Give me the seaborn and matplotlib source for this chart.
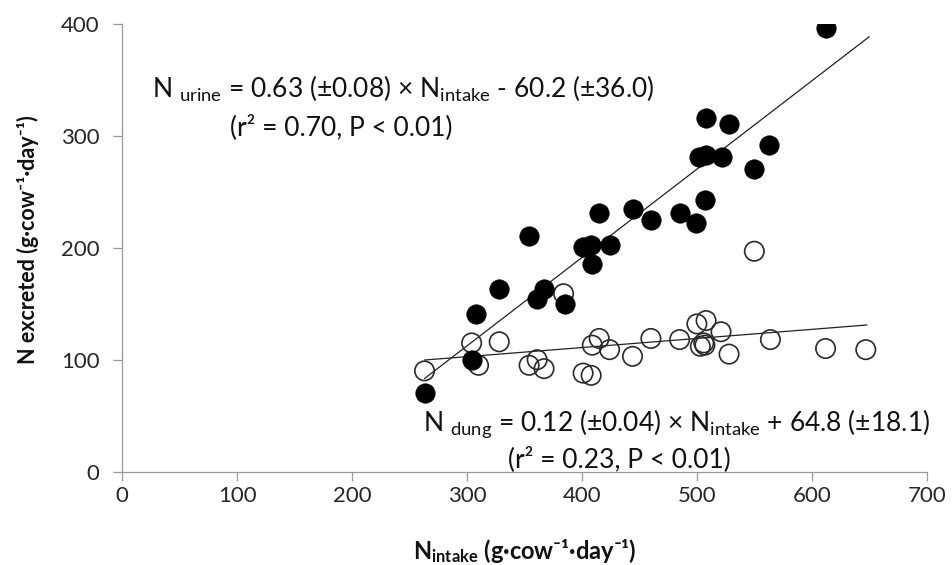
import pandas as pd
import numpy as np
import matplotlib
matplotlib.use("Agg")
import matplotlib.pyplot as plt
import seaborn as sns

# N urine (filled circles)
urine_intake = [612, 508, 528, 563, 502, 508, 522, 550, 507, 415, 444, 460, 485,
                499, 354, 401, 408, 424, 409, 328, 367, 361, 385, 308, 304, 263]
urine_n = [397, 316, 311, 292, 281, 283, 281, 271, 243, 231, 235, 225, 231,
           222, 211, 201, 203, 203, 186, 163, 163, 154, 150, 141, 100, 70]

# N dung (open circles)
dung_intake = [550, 384, 304, 328, 310, 354, 361, 367, 401, 408, 409, 415, 424,
               444, 460, 485, 500, 508, 521, 506, 503, 507, 528, 564, 612, 647, 263]
dung_n = [197, 159, 115, 116, 95, 95, 100, 92, 88, 86, 113, 119, 109,
          103, 119, 118, 132, 135, 125, 115, 112, 113, 105, 118, 110, 109, 90]

# trendlines as drawn: slope, intercept, x range
urine_fit = (0.79, -124.6)
urine_range = [263, 650]
dung_fit = (0.0814, 78.3)
dung_range = [263, 648]

x_ticks = [0, 100, 200, 300, 400, 500, 600, 700]
y_ticks = [0, 100, 200, 300, 400]

sns.set_style("ticks")
plt.rcParams['font.family'] = ['Lato', 'DejaVu Sans']
plt.rcParams['mathtext.fontset'] = 'custom'
plt.rcParams['mathtext.rm'] = 'Lato'
plt.rcParams['mathtext.bf'] = 'Lato:bold'

urine = pd.DataFrame({'intake': urine_intake, 'n': urine_n})
dung = pd.DataFrame({'intake': dung_intake, 'n': dung_n})
ux = np.array(urine_range, dtype=float)
dx = np.array(dung_range, dtype=float)
lines = pd.concat([
    pd.DataFrame({'intake': ux, 'n': urine_fit[0] * ux + urine_fit[1], 'src': 'urine'}),
    pd.DataFrame({'intake': dx, 'n': dung_fit[0] * dx + dung_fit[1], 'src': 'dung'}),
])

fig = plt.figure(figsize=(9.52, 5.65), dpi=100)
ax = fig.add_axes([122.3 / 952, 1 - 471.5 / 565, 804.4 / 952, 447.2 / 565])

sns.lineplot(data=lines, x='intake', y='n', units='src', estimator=None,
             color='#222222', lw=0.9, ax=ax, zorder=2)
sns.scatterplot(data=dung, x='intake', y='n', ax=ax, s=195, marker='o',
                facecolors='none', edgecolor='#2a2a2a', linewidth=1.2, zorder=3)
sns.scatterplot(data=urine, x='intake', y='n', ax=ax, s=195, marker='o',
                color='black', edgecolor='black', linewidth=0.5, zorder=4)

ax.set_xlim(0, 700)
ax.set_ylim(0, 400)
ax.set_xticks(x_ticks)
ax.set_yticks(y_ticks)
ax.tick_params(direction='out', length=6.5, width=0.9, color='#9a9a9a',
               labelsize=16, labelcolor='#262626')
ax.tick_params(axis='y', pad=10)
ax.tick_params(axis='x', pad=4)
for s in ['top', 'right']:
    ax.spines[s].set_visible(False)
for s in ['left', 'bottom']:
    ax.spines[s].set_color('#9a9a9a')
    ax.spines[s].set_linewidth(0.9)

ax.set_xlabel('')
ax.set_ylabel('')
fig.text(28 / 952, 1 - 240 / 565, 'N excreted (g·cow⁻¹·day⁻¹)', rotation=90,
         ha='center', va='center', fontsize=15.5, fontweight='bold', color='#111111')
fig.text(525 / 952, 1 - 551 / 565,
         r'$\mathbf{N_{intake}}$' + ' (g·cow⁻¹·day⁻¹)',
         ha='center', va='center', fontsize=17, fontweight='bold', color='#111111')

eq_kw = dict(fontsize=19, color='#111111', va='baseline')
fig.text(152 / 952, 1 - 98 / 565,
         r'N $_{\mathrm{urine}}$ = 0.63 (±0.08) × N$_{\mathrm{intake}}$ - 60.2 (±36.0)',
         ha='left', **eq_kw)
fig.text(230 / 952, 1 - 135 / 565, '(r² = 0.70, P < 0.01)', ha='left', **eq_kw)
fig.text(930 / 952, 1 - 430 / 565,
         r'N $_{\mathrm{dung}}$ = 0.12 (±0.04) × N$_{\mathrm{intake}}$ + 64.8 (±18.1)',
         ha='right', **eq_kw)
fig.text(508 / 952, 1 - 467 / 565, '(r² = 0.23, P < 0.01)', ha='left', **eq_kw)

fig.savefig('out.png', dpi=100)
